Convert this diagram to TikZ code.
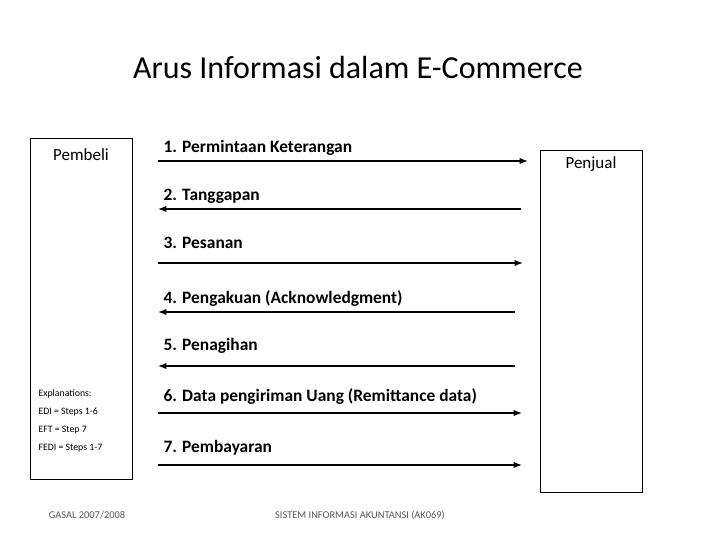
\documentclass[tikz,border=0pt]{standalone}
\usepackage{fontspec}
\setmainfont{Carlito}
\usetikzlibrary{arrows.meta}

\begin{document}
\begin{tikzpicture}[x=1pt,y=-1pt]
		\useasboundingbox (0,0) rectangle (720,540);
		\tikzset{party/.style={draw, thick, minimum width=102pt, anchor=north west},
			msg/.style={anchor=base west, font=\fontsize{17.4}{20}\selectfont\bfseries},
			flow/.style={very thick, -Latex}}
		\node[party, minimum height=341pt] (P) at (30,138) {};
		\node[party, minimum height=342pt] (S) at (540,150) {};
		\node[font=\fontsize{17}{20}\selectfont] (Pt) at (81,155) {Pembeli};
		\node[font=\fontsize{17}{20}\selectfont] (St) at (591,164) {Penjual};
		\node[font=\fontsize{32}{36}\selectfont] (T) at (358,68) {Arus Informasi dalam E-Commerce};

		\node[msg] (m1) at (160,153) {1. Permintaan Keterangan};
		\node[msg] (m2) at (160,201) {2. Tanggapan};
		\node[msg] (m3) at (160,248) {3. Pesanan};
		\node[msg] (m4) at (160,303) {4. Pengakuan (Acknowledgment)};
		\node[msg] (m5) at (160,350) {5. Penagihan};
		\node[msg] (m6) at (160,401) {6. Data pengiriman Uang (Remittance data)};
		\node[msg] (m7) at (160,452) {7. Pembayaran};

		\coordinate (a1) at (158,161); \coordinate (b1) at (528,161);
		\coordinate (a2) at (158,209); \coordinate (b2) at (521,209);
		\coordinate (a3) at (158,263); \coordinate (b3) at (523,263);
		\coordinate (a4) at (158,312); \coordinate (b4) at (515,312);
		\coordinate (a5) at (158,366); \coordinate (b5) at (515,366);
		\coordinate (a6) at (158,413); \coordinate (b6) at (522,413);
		\coordinate (a7) at (158,465); \coordinate (b7) at (522,465);
		\draw[flow] (a1) to (b1);
		\draw[flow] (b2) to (a2);
		\draw[flow] (a3) to (b3);
		\draw[flow] (b4) to (a4);
		\draw[flow] (b5) to (a5);
		\draw[flow] (a6) to (b6);
		\draw[flow] (a7) to (b7);

		\node[anchor=west, font=\fontsize{9.8}{11}\selectfont] (e0) at (35,394) {Explanations:};
		\node[anchor=west, font=\fontsize{9.8}{11}\selectfont] (e1) at (35,412) {EDI = Steps 1-6};
		\node[anchor=west, font=\fontsize{9.8}{11}\selectfont] (e2) at (35,430) {EFT = Step 7};
		\node[anchor=west, font=\fontsize{9.8}{11}\selectfont] (e3) at (35,448) {FEDI = Steps 1-7};

		\node[font=\fontsize{10.4}{12}\selectfont, gray!70!black] (f1) at (87,515) {GASAL 2007/2008};
		\node[font=\fontsize{10.4}{12}\selectfont, gray!70!black] (f2) at (360,515) {SISTEM INFORMASI AKUNTANSI (AK069)};
	\end{tikzpicture}
\end{document}
